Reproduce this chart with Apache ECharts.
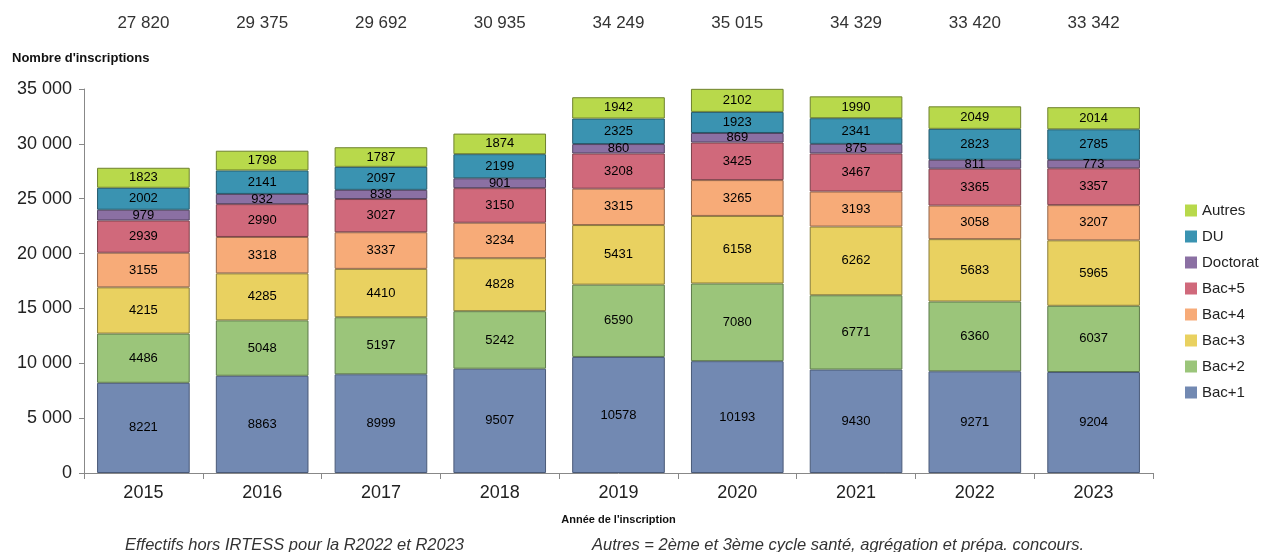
<!DOCTYPE html>
<html>
<head>
<meta charset="utf-8">
<script src="https://cdn.jsdelivr.net/npm/echarts@6/dist/echarts.min.js"></script>
<style>
  html, body { margin: 0; padding: 0; background: #fff; }
  #chart { width: 1270px; height: 552px; }
</style>
</head>
<body>
<div id="chart"></div>
<script>
  // années
  const annees = ['2015', '2016', '2017', '2018', '2019', '2020', '2021', '2022', '2023'];
  const totaux = ['27 820', '29 375', '29 692', '30 935', '34 249', '35 015', '34 329', '33 420', '33 342'];
  const yTicks = [0, 5000, 10000, 15000, 20000, 25000, 30000, 35000];

  const bac1 = [8221, 8863, 8999, 9507, 10578, 10193, 9430, 9271, 9204];
  const bac2 = [4486, 5048, 5197, 5242, 6590, 7080, 6771, 6360, 6037];
  const bac3 = [4215, 4285, 4410, 4828, 5431, 6158, 6262, 5683, 5965];
  const bac4 = [3155, 3318, 3337, 3234, 3315, 3265, 3193, 3058, 3207];
  const bac5 = [2939, 2990, 3027, 3150, 3208, 3425, 3467, 3365, 3357];
  const doctorat = [979, 932, 838, 901, 860, 869, 875, 811, 773];
  const du = [2002, 2141, 2097, 2199, 2325, 1923, 2341, 2823, 2785];
  const autres = [1823, 1798, 1787, 1874, 1942, 2102, 1990, 2049, 2014];

  const chart = echarts.init(document.getElementById('chart'));

  const police = 'Liberation Sans, Arial, sans-serif';

  function serie(nom, data, couleur, bord) {
    return {
      name: nom,
      type: 'bar',
      stack: 'total',
      barCategoryGap: '22%',
      data: data,
      itemStyle: { color: couleur, borderColor: bord, borderWidth: 1 },
      label: {
        show: true,
        position: 'inside',
        color: '#000',
        fontSize: 13,
        fontFamily: police
      }
    };
  }

  chart.setOption({
    animation: false,
    grid: { left: 84, right: 117, top: 89, bottom: 79 },
    legend: {
      orient: 'vertical',
      left: 1180,
      top: 198,
      itemWidth: 12,
      itemHeight: 12,
      itemGap: 11,
      icon: 'rect',
      itemStyle: { borderWidth: 0 },
      data: ['Autres', 'DU', 'Doctorat', 'Bac+5', 'Bac+4', 'Bac+3', 'Bac+2', 'Bac+1'],
      textStyle: { fontSize: 15, color: '#222', fontFamily: police }
    },
    xAxis: [{
      type: 'category',
      data: annees,
      axisLine: { lineStyle: { color: '#888' } },
      axisTick: { show: true, length: 6, lineStyle: { color: '#888' } },
      axisLabel: { fontSize: 18, color: '#222', margin: 11, fontFamily: police },
      name: "Année de l'inscription",
      nameLocation: 'middle',
      nameGap: 41,
      nameTextStyle: { fontSize: 11, fontWeight: 'bold', color: '#111', fontFamily: police }
    }, {
      type: 'category',
      position: 'top',
      data: totaux,
      offset: 49,
      axisLine: { show: false },
      axisTick: { show: false },
      axisLabel: { fontSize: 17, color: '#333', fontFamily: police }
    }],
    yAxis: {
      type: 'value',
      min: 0,
      max: 35000,
      interval: 5000,
      axisLine: { show: true, lineStyle: { color: '#888' } },
      axisTick: { show: true, length: 5, lineStyle: { color: '#888' } },
      splitLine: { show: false },
      axisLabel: {
        fontSize: 18, color: '#222', margin: 12, fontFamily: police,
        formatter: v => v === 0 ? '0' : String(v).replace(/(\d)(?=(\d{3})$)/, '$1 ')
      },
      name: "Nombre d'inscriptions",
      nameLocation: 'end',
      nameGap: 24,
      nameTextStyle: { fontSize: 13, fontWeight: 'bold', color: '#111', align: 'left', padding: [0, 0, 0, -72], fontFamily: police }
    },
    series: [
      serie('Bac+1', bac1, '#7289b2', '#4a5a78'),
      serie('Bac+2', bac2, '#9bc57a', '#5d7a4a'),
      serie('Bac+3', bac3, '#e9d160', '#8a7d3a'),
      serie('Bac+4', bac4, '#f7ab78', '#94674a'),
      serie('Bac+5', bac5, '#d0697b', '#7d404a'),
      serie('Doctorat', doctorat, '#8b70a3', '#544462'),
      serie('DU', du, '#3a93b1', '#24596b'),
      serie('Autres', autres, '#b8d94b', '#6f822e')
    ],
    graphic: [{
      type: 'text',
      left: 125,
      top: 537,
      style: { text: 'Effectifs hors IRTESS pour la R2022 et R2023', fontSize: 16.5, fontStyle: 'italic', fill: '#333', fontFamily: police }
    }, {
      type: 'text',
      left: 592,
      top: 537,
      style: { text: 'Autres = 2ème et 3ème cycle santé, agrégation et prépa. concours.', fontSize: 16.5, fontStyle: 'italic', fill: '#333', fontFamily: police }
    }]
  });
</script>
</body>
</html>
